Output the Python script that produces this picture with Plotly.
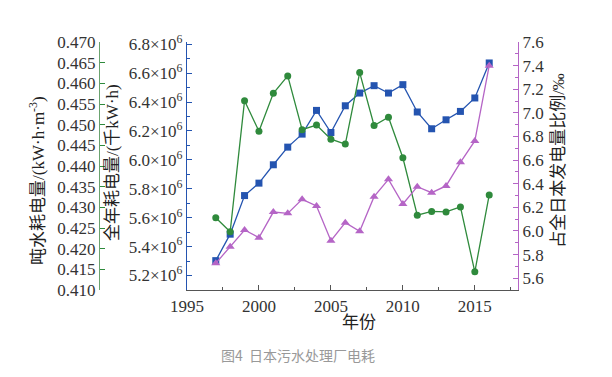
import plotly.graph_objects as go

years = list(range(1997, 2017))
annual_kwh = [5.303e6, 5.486e6, 5.753e6, 5.839e6, 5.966e6, 6.088e6, 6.178e6, 6.342e6, 6.189e6, 6.374e6,
              6.462e6, 6.513e6, 6.462e6, 6.520e6, 6.331e6, 6.215e6, 6.277e6, 6.335e6, 6.428e6, 6.670e6]
per_ton = [0.4275, 0.4241, 0.4558, 0.4484, 0.4576, 0.4618, 0.4488, 0.4499, 0.4465, 0.4453,
           0.4626, 0.4498, 0.4518, 0.4420, 0.4281, 0.4290, 0.4289, 0.4301, 0.4144, 0.4330]
share_permil = [5.726, 5.867, 6.008, 5.943, 6.160, 6.149, 6.268, 6.211, 5.917, 6.070,
                5.997, 6.290, 6.437, 6.228, 6.375, 6.324, 6.381, 6.581, 6.762, 7.399]

blue_tickvals = [5.2e6, 5.4e6, 5.6e6, 5.8e6, 6.0e6, 6.2e6, 6.4e6, 6.6e6, 6.8e6]
blue_ticktext = ["5.2×10<sup>6</sup>", "5.4×10<sup>6</sup>", "5.6×10<sup>6</sup>", "5.8×10<sup>6</sup>",
                 "6.0×10<sup>6</sup>", "6.2×10<sup>6</sup>", "6.4×10<sup>6</sup>", "6.6×10<sup>6</sup>",
                 "6.8×10<sup>6</sup>"]
green_tickvals = [0.410, 0.415, 0.420, 0.425, 0.430, 0.435, 0.440, 0.445, 0.450, 0.455, 0.460, 0.465, 0.470]
green_ticktext = ["0.410", "0.415", "0.420", "0.425", "0.430", "0.435", "0.440", "0.445",
                  "0.450", "0.455", "0.460", "0.465", "0.470"]

GREEN = "#2f8a3c"
BLUE = "#2454b0"
PINK = "#b565c6"
SERIF = "Liberation Serif, Times New Roman, serif"
TITLEF = "Liberation Serif, Noto Sans CJK SC, serif"
CJK = "Noto Sans CJK SC"

fig = go.Figure()
fig.add_trace(go.Scatter(x=years, y=per_ton, yaxis="y2", mode="lines+markers",
                         line=dict(color=GREEN, width=1.3),
                         marker=dict(symbol="circle", size=7, color=GREEN)))
fig.add_trace(go.Scatter(x=years, y=annual_kwh, yaxis="y", mode="lines+markers",
                         line=dict(color=BLUE, width=1.3),
                         marker=dict(symbol="square", size=7, color=BLUE)))
fig.add_trace(go.Scatter(x=years, y=share_permil, yaxis="y3", mode="lines+markers",
                         line=dict(color=PINK, width=1.3),
                         marker=dict(symbol="triangle-up", size=8, color=PINK)))

tickfont = dict(family=SERIF, size=17, color="#333333")

# page body has an 8px margin: figure is shrunk so the plot lands at the reference spot
fig.update_layout(
    template="none",
    width=604, height=369,
    margin=dict(l=91, r=94, t=34, b=87, autoexpand=False),
    paper_bgcolor="white", plot_bgcolor="white",
    showlegend=False,
    xaxis=dict(domain=[0.21, 1], range=[1995, 2018], tickvals=[1995, 2000, 2005, 2010, 2015],
               ticks="inside", ticklen=5, tickcolor="#555", showline=True, linecolor="#555",
               linewidth=1.2, showgrid=False, zeroline=False, tickfont=tickfont, automargin=False,
               minor=dict(dtick=2.5, tick0=1995, ticks="inside", ticklen=3, tickcolor="#555",
                          showgrid=False)),
    yaxis=dict(range=[5.1e6, 6.815e6], tickvals=blue_tickvals, ticktext=blue_ticktext,
               ticks="inside", ticklen=5, tickcolor=BLUE, showline=True, linecolor=BLUE,
               linewidth=1.2, showgrid=False, zeroline=False, tickfont=tickfont, automargin=False,
               minor=dict(dtick=1e5, tick0=5.1e6, ticks="inside", ticklen=3, tickcolor=BLUE,
                          showgrid=False)),
    yaxis2=dict(range=[0.41, 0.47], tickvals=green_tickvals, ticktext=green_ticktext,
                anchor="free", position=0, overlaying="y", side="left",
                ticks="inside", ticklen=5, tickcolor=GREEN, showline=True, linecolor="#6aa36f",
                linewidth=1.2, showgrid=False, zeroline=False, tickfont=tickfont, automargin=False),
    yaxis3=dict(range=[5.5, 7.6], dtick=0.2, tick0=5.6, tickformat=".1f",
                anchor="x", overlaying="y", side="right",
                ticks="inside", ticklen=5, tickcolor=PINK, showline=True, linecolor=PINK,
                linewidth=1.2, showgrid=False, zeroline=False, tickfont=tickfont, automargin=False,
                minor=dict(dtick=0.1, tick0=5.5, ticks="inside", ticklen=3, tickcolor=PINK,
                           showgrid=False)),
)

title_font = dict(family=TITLEF, size=17, color="#222222")
fig.add_annotation(text="吨水耗电量/(kW·h·m<sup>-3</sup>)", xref="paper", yref="paper",
                   x=-0.148, y=0.444, textangle=-90, showarrow=False, font=title_font,
                   xanchor="center", yanchor="middle")
fig.add_annotation(text="全年耗电量/(千kW·h)", xref="paper", yref="paper",
                   x=0.031, y=0.516, textangle=-90, showarrow=False, font=title_font,
                   xanchor="center", yanchor="middle")
fig.add_annotation(text="占全日本发电量比例/‰", xref="paper", yref="paper",
                   x=1.095, y=0.524, textangle=-90, showarrow=False, font=title_font,
                   xanchor="center", yanchor="middle")
fig.add_annotation(text="年份", xref="paper", yref="paper",
                   x=0.621, y=-0.133, showarrow=False, font=dict(family=TITLEF, size=17, color="#222222"),
                   xanchor="center", yanchor="middle")
fig.add_annotation(text="图4  日本污水处理厂电耗", xref="paper", yref="paper",
                   x=0.475, y=-0.262, showarrow=False, font=dict(family=CJK, size=14, color="#999999"),
                   xanchor="center", yanchor="middle")

fig.write_html("out.html")
